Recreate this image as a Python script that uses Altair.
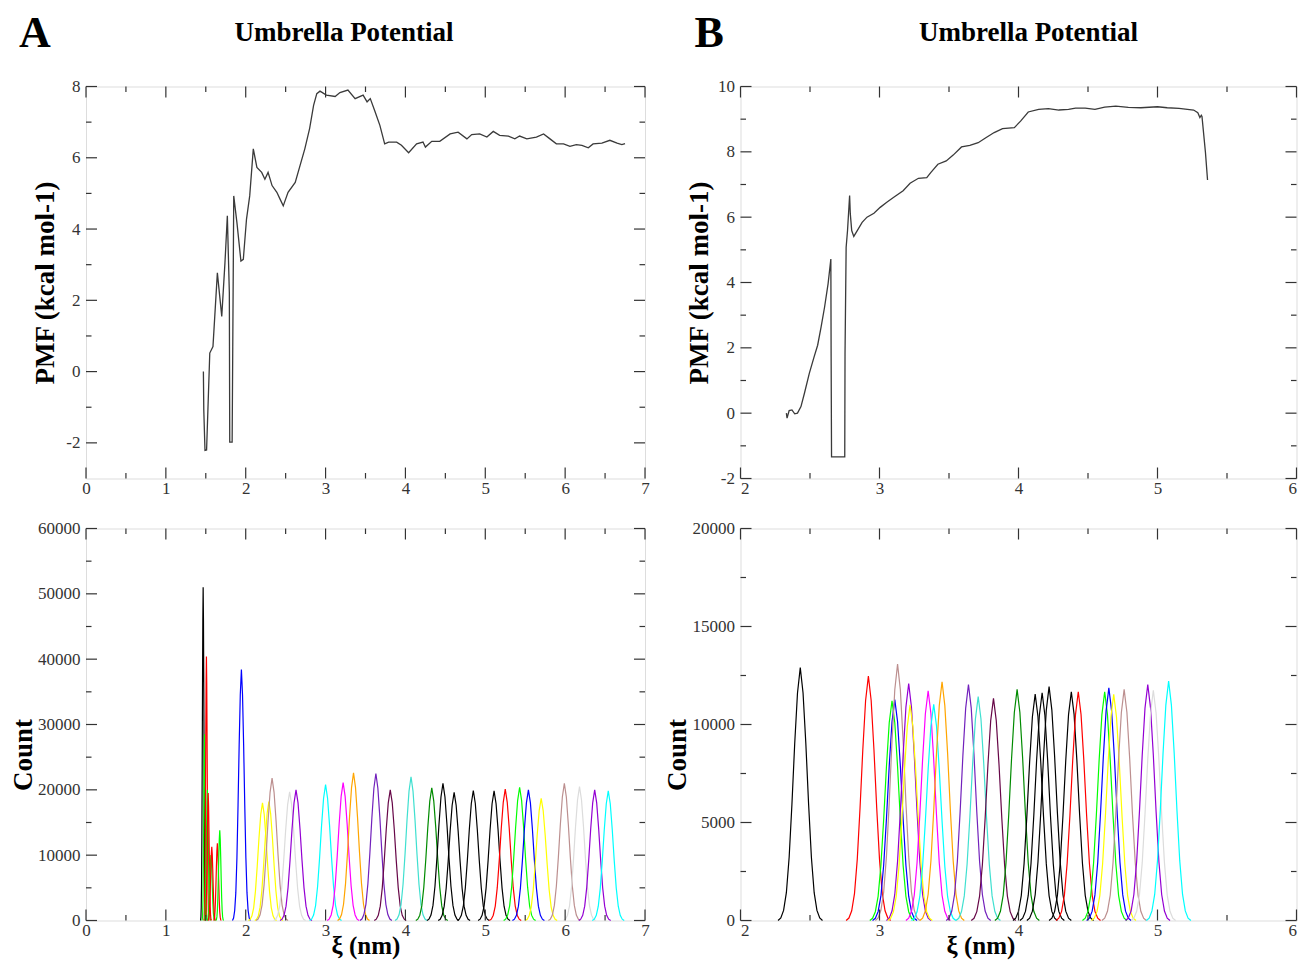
import altair as alt
import pandas as pd

FONT = "Liberation Serif"
INK = "#333333"
PMF_COLOR = "#3a3a3a"

# ---------------- PMF curves ----------------
A_XI = [1.47, 1.475, 1.49, 1.51, 1.55, 1.59, 1.645, 1.70, 1.74, 1.77, 1.795, 1.80, 1.83, 1.85, 1.89,
        1.94, 1.97, 2.01, 2.05, 2.095, 2.14, 2.20, 2.24, 2.28, 2.33, 2.39, 2.43, 2.47, 2.53, 2.62,
        2.68, 2.74, 2.80, 2.85, 2.89, 2.93, 3.01, 3.12, 3.18, 3.28, 3.37, 3.47, 3.52, 3.56, 3.62,
        3.68, 3.74, 3.79, 3.89, 3.95, 4.04, 4.14, 4.22, 4.25, 4.33, 4.43, 4.56, 4.66, 4.77, 4.83,
        4.93, 5.02, 5.10, 5.18, 5.29, 5.37, 5.43, 5.52, 5.64, 5.73, 5.81, 5.89, 5.98, 6.06, 6.14,
        6.21, 6.29, 6.35, 6.46, 6.56, 6.65, 6.71, 6.75]
A_PMF = [0.0, -1.08, -2.21, -2.2, 0.52, 0.70, 2.77, 1.55, 3.05, 4.37, 2.21, -1.98, -1.98, 4.93, 4.18,
         3.10, 3.15, 4.28, 4.93, 6.25, 5.73, 5.59, 5.40, 5.59, 5.22, 5.03, 4.84, 4.65, 5.03, 5.31,
         5.78, 6.25, 6.82, 7.47, 7.80, 7.87, 7.76, 7.72, 7.83, 7.90, 7.66, 7.76, 7.57, 7.66, 7.29,
         6.91, 6.39, 6.44, 6.44, 6.35, 6.14, 6.39, 6.44, 6.30, 6.46, 6.46, 6.67, 6.72, 6.53, 6.65,
         6.67, 6.58, 6.74, 6.63, 6.61, 6.53, 6.61, 6.53, 6.58, 6.67, 6.53, 6.39, 6.39, 6.32, 6.37,
         6.35, 6.28, 6.39, 6.41, 6.49, 6.41, 6.37, 6.40]

B_XI = [2.33, 2.335, 2.35, 2.37, 2.39, 2.41, 2.435, 2.46, 2.495, 2.53, 2.555, 2.58, 2.605, 2.63, 2.65,
        2.652, 2.655, 2.75, 2.752, 2.76, 2.77, 2.785, 2.79, 2.80, 2.815, 2.84, 2.875, 2.91, 2.96, 3.005,
        3.05, 3.10, 3.17, 3.22, 3.28, 3.34, 3.37, 3.42, 3.48, 3.53, 3.59, 3.65, 3.71, 3.765, 3.825,
        3.885, 3.97, 4.015, 4.07, 4.145, 4.215, 4.29, 4.36, 4.41, 4.48, 4.55, 4.62, 4.70, 4.79, 4.88,
        5.0, 5.07, 5.155, 5.215, 5.26, 5.29, 5.305, 5.315, 5.32, 5.345, 5.36]
B_PMF = [0.0, -0.15, 0.08, 0.10, -0.02, 0.0, 0.2, 0.61, 1.22, 1.73, 2.08, 2.64, 3.25, 3.96, 4.72,
         1.73, -1.34, -1.34, 1.83, 5.08, 5.59, 6.66, 6.10, 5.59, 5.41, 5.59, 5.84, 6.0, 6.12, 6.30,
         6.45, 6.60, 6.81, 7.04, 7.19, 7.21, 7.37, 7.62, 7.72, 7.90, 8.15, 8.20, 8.28, 8.43, 8.59,
         8.71, 8.74, 8.94, 9.22, 9.30, 9.32, 9.28, 9.30, 9.34, 9.34, 9.30, 9.37, 9.40, 9.36, 9.35,
         9.38, 9.35, 9.33, 9.30, 9.28, 9.20, 9.05, 9.12, 9.08, 7.98, 7.14]

# ---------------- umbrella histograms ----------------
# relative shape of one histogram window, read from a well separated peak
PEAK_PROFILE = [0.00, 0.01, 0.04, 0.11, 0.25, 0.46, 0.70, 0.90, 1.00,
                0.90, 0.70, 0.46, 0.25, 0.11, 0.04, 0.01, 0.00]

A_PK_X = [1.467, 1.485, 1.508, 1.52, 1.53, 1.565, 1.575, 1.645, 1.675, 1.946,
          2.21, 2.29, 2.33, 2.55, 2.63, 3.00, 3.22, 3.35, 3.63, 3.81,
          4.07, 4.33, 4.47, 4.61, 4.85, 5.11, 5.25, 5.43, 5.54, 5.70,
          5.99, 6.18, 6.37, 6.54]
A_PK_H = [51000, 28500, 40400, 20000, 19500, 10000, 11300, 11800, 13800, 38400,
          18000, 18200, 21800, 19700, 20000, 20800, 21100, 22600, 22500, 20000,
          22000, 20300, 21000, 19600, 19900, 19850, 20100, 20400, 20000, 18700,
          21000, 20500, 20000, 19850]
A_PK_STEP = [0.004, 0.004, 0.004, 0.005, 0.005, 0.006, 0.006, 0.006, 0.006, 0.014,
             0.022, 0.022, 0.025, 0.025, 0.025, 0.025, 0.025, 0.025, 0.025, 0.025,
             0.025, 0.025, 0.025, 0.025, 0.025, 0.025, 0.025, 0.025, 0.025, 0.025,
             0.025, 0.025, 0.025, 0.025]
A_PK_COLOR = ["black", "green", "red", "green", "red", "green", "red", "red", "green", "blue",
              "yellow", "yellow", "brown", "grey", "violet", "cyan", "magenta", "orange", "indigo", "maroon",
              "turquoise", "green4", "black", "black", "black", "black", "red", "green", "blue", "yellow",
              "brown", "grey", "violet", "cyan"]

B_PK_X = [2.43, 2.92, 3.09, 3.11, 3.13, 3.21, 3.22, 3.35, 3.39, 3.45,
          3.64, 3.71, 3.82, 3.99, 4.12, 4.17, 4.22, 4.38, 4.43, 4.62,
          4.65, 4.685, 4.76, 4.93, 4.97, 5.08]
B_PK_H = [12900, 12470, 11210, 11270, 13080, 12090, 11000, 11720, 11030, 12180,
          12040, 11420, 11330, 11790, 11550, 11620, 11930, 11670, 11670, 11670,
          11870, 11540, 11790, 12040, 11750, 12210]
B_PK_STEP = [0.02] * 26
B_PK_COLOR = ["black", "red", "green", "blue", "brown", "violet", "yellow", "magenta", "cyan", "orange",
              "indigo", "turquoise", "maroon", "green4", "black", "black", "black", "black", "red", "green",
              "blue", "yellow", "brown", "violet", "grey", "cyan"]

XMGRACE = {"black": "#000000", "red": "#ff0000", "green": "#00ff00", "blue": "#0000ff",
           "yellow": "#ffff00", "brown": "#bc8f8f", "grey": "#dcdcdc", "violet": "#9400d3",
           "cyan": "#00ffff", "magenta": "#ff00ff", "orange": "#ffa500", "indigo": "#7221bc",
           "maroon": "#670748", "turquoise": "#40e0d0", "green4": "#008b00"}

# ---------------- axes ----------------
A_X_MAJOR = [0, 1, 2, 3, 4, 5, 6, 7]
A_X_MINOR = [0.5, 1.5, 2.5, 3.5, 4.5, 5.5, 6.5]
B_X_MAJOR = [2, 3, 4, 5, 6]
B_X_MINOR = [2.5, 3.5, 4.5, 5.5]
A_PMF_MAJOR = [-2, 0, 2, 4, 6, 8]
A_PMF_MINOR = [-1, 1, 3, 5, 7]
B_PMF_MAJOR = [-2, 0, 2, 4, 6, 8, 10]
B_PMF_MINOR = [-1, 1, 3, 5, 7, 9]
A_CNT_MAJOR = [0, 10000, 20000, 30000, 40000, 50000, 60000]
A_CNT_MINOR = [5000, 15000, 25000, 35000, 45000, 55000]
B_CNT_MAJOR = [0, 5000, 10000, 15000, 20000]
B_CNT_MINOR = [2500, 7500, 12500, 17500]

W_A, W_B = 559, 556
H_TOP, H_BOT = 392, 392
MAJ, MIN = 11, 5.5
LABEL_SIZE = 17


def peak_frame(xs, hs, steps, colors):
    half = len(PEAK_PROFILE) // 2
    rows = []
    for i, (c, h, s, col) in enumerate(zip(xs, hs, steps, colors)):
        for k, p in enumerate(PEAK_PROFILE):
            rows.append({"id": i, "x": c + (k - half) * s, "y": h * p, "color": XMGRACE[col]})
    return pd.DataFrame(rows)


def x_axis(values, title, tx, flush):
    return alt.Axis(values=values, labelExpr="toString(datum.value)", title=title, domain=False,
                    ticks=False, grid=False,
                    labelFont=FONT, labelFontSize=LABEL_SIZE, labelColor=INK, labelPadding=2,
                    labelFlush=flush, labelOverlap=False,
                    titleFont=FONT, titleFontSize=25, titleFontWeight="bold", titleColor="black",
                    titleX=tx, titleY=33, titleBaseline="alphabetic", titleAlign="center")


def y_axis(values, title, tx, ty):
    return alt.Axis(values=values, labelExpr="toString(datum.value)", title=title, domain=False,
                    ticks=False, grid=False,
                    labelFont=FONT, labelFontSize=LABEL_SIZE, labelColor=INK, labelPadding=6,
                    labelOverlap=False,
                    titleFont=FONT, titleFontSize=27, titleFontWeight="bold", titleColor="black",
                    titleAngle=270, titleX=tx, titleY=ty, titleBaseline="alphabetic",
                    titleAlign="center")


def tick_layers(xmaj, xmin, ymaj, ymin, W, H):
    layers = []
    for vals, L in ((xmaj, MAJ), (xmin, MIN)):
        base = alt.Chart(pd.DataFrame({"x": vals})).mark_rule(color=INK, strokeWidth=1.2).encode(
            x=alt.X("x:Q"))
        layers.append(base.encode(y=alt.value(H), y2=alt.value(H - L)))
        layers.append(base.encode(y=alt.value(0), y2=alt.value(L)))
    for vals, L in ((ymaj, MAJ), (ymin, MIN)):
        base = alt.Chart(pd.DataFrame({"y": vals})).mark_rule(color=INK, strokeWidth=1.2).encode(
            y=alt.Y("y:Q"))
        layers.append(base.encode(x=alt.value(0), x2=alt.value(L)))
        layers.append(base.encode(x=alt.value(W), x2=alt.value(W - L)))
    return layers


def label_layers(letter, letter_x, title_x):
    big = alt.Chart(pd.DataFrame({"t": [letter]})).mark_text(
        align="left", baseline="alphabetic", font=FONT, fontSize=44, fontWeight="bold",
        color="black").encode(x=alt.value(letter_x), y=alt.value(-40), text="t:N")
    ttl = alt.Chart(pd.DataFrame({"t": ["Umbrella Potential"]})).mark_text(
        align="center", baseline="alphabetic", font=FONT, fontSize=27, fontWeight="bold",
        color="black").encode(x=alt.value(title_x), y=alt.value(-46), text="t:N")
    return [big, ttl]


def pmf_panel(xs, ys, xdom, ydom, xmaj, xmin, ymaj, ymin, W, H, letter, letter_x, title_x, ytx, flush):
    df = pd.DataFrame({"x": xs, "y": ys})
    line = alt.Chart(df).mark_line(color=PMF_COLOR, strokeWidth=1.3).encode(
        x=alt.X("x:Q", scale=alt.Scale(domain=xdom, nice=False, zero=False),
                axis=x_axis(xmaj, " ", W / 2, flush)),
        y=alt.Y("y:Q", scale=alt.Scale(domain=ydom, nice=False, zero=False),
                axis=y_axis(ymaj, "PMF (kcal mol-1)", ytx, H / 2)))
    return alt.layer(line, *tick_layers(xmaj, xmin, ymaj, ymin, W, H),
                     *label_layers(letter, letter_x, title_x)).properties(width=W, height=H)


def hist_panel(df, xdom, ydom, xmaj, xmin, ymaj, ymin, W, H, ytx, xtx, flush):
    peaks = alt.Chart(df).mark_line(strokeWidth=1.2).encode(
        x=alt.X("x:Q", scale=alt.Scale(domain=xdom, nice=False, zero=False),
                axis=x_axis(xmaj, "ξ (nm)", xtx, flush)),
        y=alt.Y("y:Q", scale=alt.Scale(domain=ydom, nice=False, zero=False),
                axis=y_axis(ymaj, "Count", ytx, H / 2 + 30)),
        detail="id:N",
        color=alt.Color("color:N", scale=None))
    return alt.layer(peaks, *tick_layers(xmaj, xmin, ymaj, ymin, W, H)).properties(width=W, height=H)


a_top = pmf_panel(A_XI, A_PMF, [0, 7], [-3, 8], A_X_MAJOR, A_X_MINOR, A_PMF_MAJOR, A_PMF_MINOR,
                  W_A, H_TOP, "A", -67, 258, -33, False)
b_top = pmf_panel(B_XI, B_PMF, [2, 6], [-2, 10], B_X_MAJOR, B_X_MINOR, B_PMF_MAJOR, B_PMF_MINOR,
                  W_B, H_TOP, "B", -46, 288, -33, True)
a_bot = hist_panel(peak_frame(A_PK_X, A_PK_H, A_PK_STEP, A_PK_COLOR), [0, 7], [0, 60000],
                   A_X_MAJOR, A_X_MINOR, A_CNT_MAJOR, A_CNT_MINOR, W_A, H_BOT, -55, W_A / 2, False)
b_bot = hist_panel(peak_frame(B_PK_X, B_PK_H, B_PK_STEP, B_PK_COLOR), [2, 6], [0, 20000],
                   B_X_MAJOR, B_X_MINOR, B_CNT_MAJOR, B_CNT_MINOR, W_B, H_BOT, -55, W_B / 2 - 38, True)

chart = alt.concat(a_top, b_top, a_bot, b_bot, columns=2,
                   spacing={"row": 50, "column": 95.5}, bounds="flush").properties(
    padding={"left": 0, "top": 2.5, "right": 0, "bottom": 0}
).configure_view(stroke=INK, strokeWidth=1.5).configure(background="white")

chart.save("out.html", embed_options={"renderer": "svg", "actions": False})
